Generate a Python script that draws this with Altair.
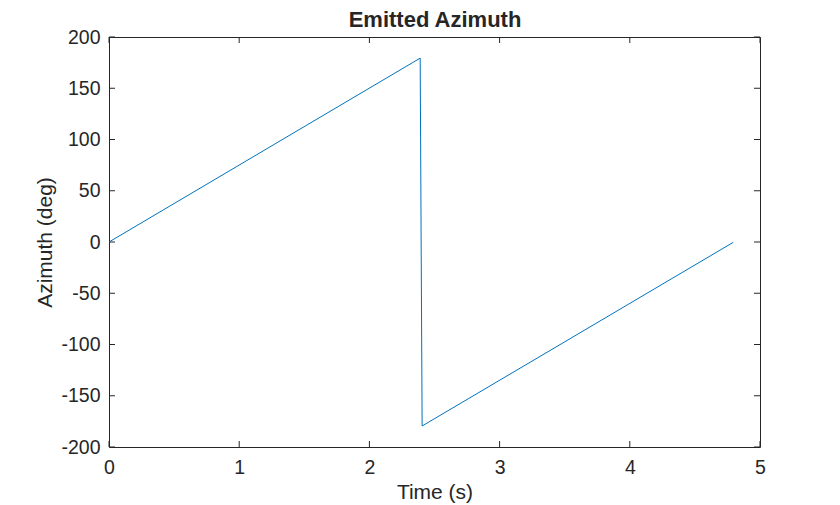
import altair as alt
import pandas as pd

# Data
time_s = [0.0, 2.39, 2.405, 4.795]
azimuth_deg = [0.0, 179.4, -179.5, -0.3]

x_ticks = [0, 1, 2, 3, 4, 5]
y_ticks = [-200, -150, -100, -50, 0, 50, 100, 150, 200]

df = pd.DataFrame({"t": time_s, "az": azimuth_deg})
xt = pd.DataFrame({"v": x_ticks})
yt = pd.DataFrame({"v": y_ticks})

FONT = "Liberation Sans"
AX = "#262626"
TICK = 6
W, H = 651, 410

x_scale = alt.Scale(domain=[0, 5], nice=False, zero=False)
y_scale = alt.Scale(domain=[-200, 200], nice=False, zero=False)

main = alt.Chart(df).mark_line(color="#0072BD", strokeWidth=1, clip=True).encode(
    x=alt.X("t:Q", scale=x_scale,
            axis=alt.Axis(values=x_ticks, title="Time (s)", labelFontSize=19.5,
                          titleFontSize=21, titleFontWeight="normal",
                          labelPadding=11, titlePadding=5, labelFlush=False,
                          labelExpr="toString(datum.value)", grid=False, domain=False,
                          ticks=False, labelColor=AX, titleColor=AX,
                          labelFont=FONT, titleFont=FONT)),
    y=alt.Y("az:Q", scale=y_scale,
            axis=alt.Axis(values=y_ticks, title="Azimuth (deg)", labelFontSize=19.5,
                          titleFontSize=21, titleFontWeight="normal",
                          labelPadding=9, titlePadding=5, labelFlush=False,
                          labelExpr="toString(datum.value)", grid=False, domain=False,
                          ticks=False, labelColor=AX, titleColor=AX,
                          labelFont=FONT, titleFont=FONT)),
)

tick_style = dict(color=AX, strokeWidth=1)
x_bottom = alt.Chart(xt).mark_rule(**tick_style).encode(
    x=alt.X("v:Q", scale=x_scale, axis=None), y=alt.value(H - TICK), y2=alt.value(H))
x_top = alt.Chart(xt).mark_rule(**tick_style).encode(
    x=alt.X("v:Q", scale=x_scale,
            axis=alt.Axis(orient="top", title="Emitted Azimuth", labels=False,
                          ticks=False, domain=False, grid=False,
                          titleFont=FONT, titleFontSize=22, titleFontWeight="bold",
                          titleColor=AX, titlePadding=6)),
    y=alt.value(0), y2=alt.value(TICK))
y_left = alt.Chart(yt).mark_rule(**tick_style).encode(
    y=alt.Y("v:Q", scale=y_scale), x=alt.value(0), x2=alt.value(TICK))
y_right = alt.Chart(yt).mark_rule(**tick_style).encode(
    y=alt.Y("v:Q", scale=y_scale), x=alt.value(W - TICK), x2=alt.value(W))

chart = alt.layer(main, x_bottom, x_top, y_left, y_right).resolve_axis(
    x="independent"
).properties(
    width=W,
    height=H,
    background="white",
    autosize=alt.AutoSizeParams(type="none"),
    padding={"left": 101, "top": 29, "right": 72, "bottom": 60},
).configure_view(stroke=AX, strokeWidth=1)

chart.save("out.html", embed_options={"renderer": "svg", "actions": False})
